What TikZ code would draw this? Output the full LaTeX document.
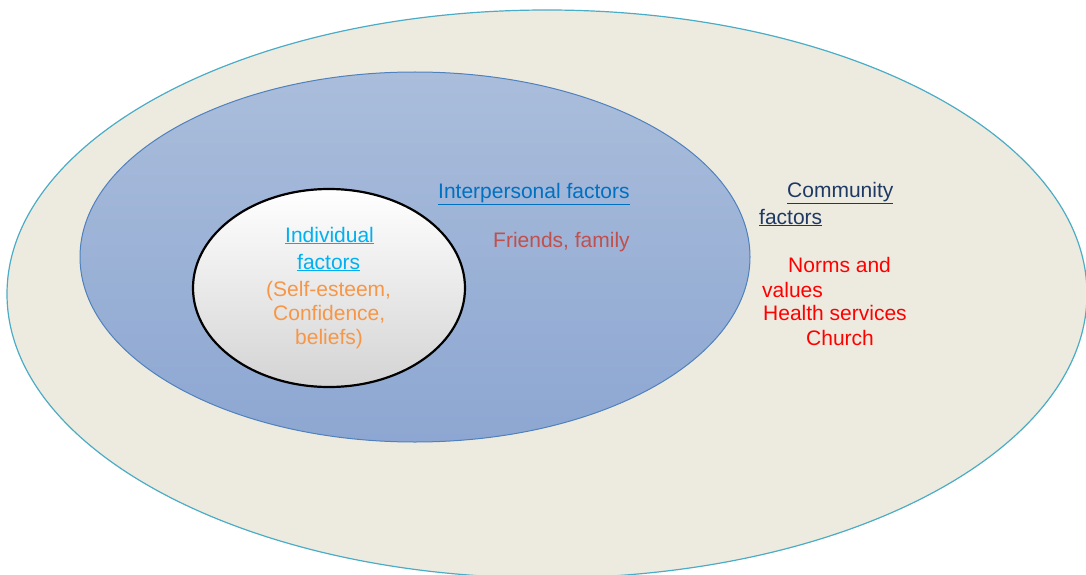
\documentclass[tikz,border=0pt]{standalone}
\usepackage{fontspec}
\setmainfont{Liberation Sans}

\definecolor{community-fill}{RGB}{237,235,224}
\definecolor{community-edge}{RGB}{75,172,198}
\definecolor{inter-top}{RGB}{170,189,219}
\definecolor{inter-bottom}{RGB}{141,167,210}
\definecolor{inter-edge}{RGB}{79,129,189}
\definecolor{indiv-title}{RGB}{0,176,240}
\definecolor{indiv-text}{RGB}{247,150,70}
\definecolor{inter-title}{RGB}{0,112,192}
\definecolor{inter-text}{RGB}{192,80,77}
\definecolor{comm-title}{RGB}{31,56,100}
\definecolor{comm-text}{RGB}{255,0,0}

\begin{document}
\begin{tikzpicture}[x=1pt, y=-1pt]
    \tikzstyle{community} = [draw=community-edge, fill=community-fill, line width=1.2pt];
    \tikzstyle{interpersonal} = [draw=inter-edge, top color=inter-top, bottom color=inter-bottom, line width=1pt];
    \tikzstyle{individual} = [draw=black, top color=white, middle color=white!92!black, bottom color=black!17, line width=2.2pt];
    \tikzstyle{txt} = [font=\fontsize{21}{25}\selectfont, inner sep=0pt, anchor=base west];

    \useasboundingbox (0,0) rectangle (1086,575);
    \clip (0,0) rectangle (1086,575);

    \path[community] (547,294) ellipse [x radius=540, y radius=284];
    \shade[interpersonal] (415,257) ellipse [x radius=335, y radius=185];
    \shade[individual] (329,288) ellipse [x radius=136, y radius=99];

    % individual
    \node[txt, text=indiv-title] (indiv-1) at (285,242) {\underline{Individual}};
    \node[txt, text=indiv-title] (indiv-2) at (297,269) {\underline{factors}};
    \node[txt, text=indiv-text]  (indiv-3) at (266,296) {(Self-esteem,};
    \node[txt, text=indiv-text]  (indiv-4) at (273,320) {Confidence,};
    \node[txt, text=indiv-text]  (indiv-5) at (295,344) {beliefs)};

    % interpersonal
    \node[txt, text=inter-title] (inter-1) at (438,198) {\underline{Interpersonal factors}};
    \node[txt, text=inter-text]  (inter-2) at (493,247) {Friends, family};

    % community
    \node[txt, text=comm-title] (comm-1) at (787,197) {\underline{Community}};
    \node[txt, text=comm-title] (comm-2) at (759,224) {\underline{factors}};
    \node[txt, text=comm-text]  (comm-3) at (788,272) {Norms and};
    \node[txt, text=comm-text]  (comm-4) at (762,297) {values};
    \node[txt, text=comm-text]  (comm-5) at (763,320) {Health services};
    \node[txt, text=comm-text]  (comm-6) at (806,345) {Church};
\end{tikzpicture}
\end{document}
